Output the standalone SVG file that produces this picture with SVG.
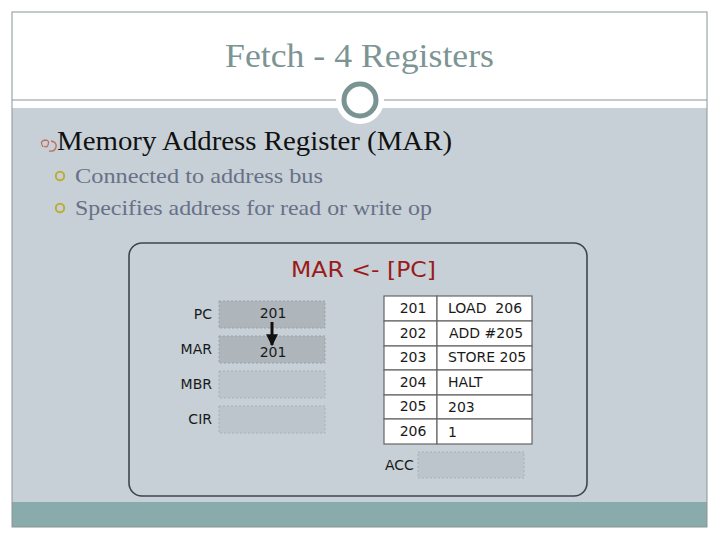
<svg xmlns="http://www.w3.org/2000/svg" width="720" height="540" viewBox="0 0 720 540">
<defs>
<style>
.title{font-family:"Liberation Serif","DejaVu Serif",serif;font-size:34px;fill:#7d9494}
.h1{font-family:"Liberation Serif","DejaVu Serif",serif;font-size:27px;fill:#111}
.h2{font-family:"Liberation Serif","DejaVu Serif",serif;font-size:22px;fill:#687088}
.lab{font-family:"DejaVu Sans","Liberation Sans",sans-serif;font-size:14px;fill:#1a1a1a}
.cell{fill:#ffffff;stroke:#666;stroke-width:1.2}
.regA{fill:#aeb6bb;stroke:#9aa2a8;stroke-width:1;stroke-dasharray:2 2}
.regB{fill:#bcc5cb;stroke:#a8b0b6;stroke-width:1;stroke-dasharray:2 2}
</style>
<marker id="ah" viewBox="0 0 10 10" refX="9" refY="5" markerWidth="4" markerHeight="4" orient="auto"><path d="M0,0 L10,5 L0,10 z" fill="#111"/></marker>
</defs>
<rect width="720" height="540" fill="#ffffff"/>
<rect x="12" y="108" width="695" height="419" fill="#c6d0d6"/>
<rect x="12" y="502" width="695" height="25" fill="#8aabab"/>
<rect x="12" y="12" width="695" height="515" fill="none" stroke="#8a9696" stroke-width="1"/>
<line x1="12" y1="100" x2="707" y2="100" stroke="#8a9696" stroke-width="1"/>
<circle cx="360" cy="100" r="24" fill="#ffffff"/>
<circle cx="360" cy="100" r="16" fill="#ffffff" stroke="#7a9494" stroke-width="5"/>
<text class="title" x="225" y="67" textLength="269" lengthAdjust="spacingAndGlyphs">Fetch - 4 Registers</text>
<path d="M43,147 q-4,-6 2,-7 q5,0 3,5 q-1,3 -4,1 M51,141 q6,1 5,6 q-1,5 -7,4" fill="none" stroke="#c07060" stroke-width="1.3"/>
<text class="h1" x="57" y="150" textLength="395" lengthAdjust="spacingAndGlyphs">Memory Address Register (MAR)</text>
<circle cx="60" cy="176" r="4.2" fill="none" stroke="#b8ae3a" stroke-width="2"/>
<text class="h2" x="75" y="183" textLength="248" lengthAdjust="spacingAndGlyphs">Connected to address bus</text>
<circle cx="60" cy="208" r="4.2" fill="none" stroke="#b8ae3a" stroke-width="2"/>
<text class="h2" x="75" y="215" textLength="357" lengthAdjust="spacingAndGlyphs">Specifies address for read or write op</text>
<g id="panel">
<rect x="129" y="243" width="458" height="253" rx="13" fill="#c6d0d6" stroke="#3c4650" stroke-width="1.6"/>
<text x="291" y="277" textLength="145" lengthAdjust="spacingAndGlyphs" style="font-family:'DejaVu Sans','Liberation Sans',sans-serif;font-size:22px;fill:#9b1b1b">MAR &lt;- [PC]</text>
</g>
<g id="pc"><rect class="regA" x="219" y="301" width="106" height="27"/><text class="lab" x="212" y="319" text-anchor="end">PC</text><text class="lab" x="273" y="318" text-anchor="middle">201</text></g>
<g id="mar"><rect class="regA" x="219" y="336" width="106" height="27"/><text class="lab" x="212" y="354" text-anchor="end">MAR</text><text class="lab" x="273" y="357" text-anchor="middle">201</text></g>
<g id="mbr"><rect class="regB" x="219" y="371" width="106" height="27"/><text class="lab" x="212" y="389" text-anchor="end">MBR</text></g>
<g id="cir"><rect class="regB" x="219" y="406" width="106" height="27"/><text class="lab" x="212" y="424" text-anchor="end">CIR</text></g>
<g id="acc"><rect class="regB" x="418" y="452" width="106" height="26"/><text class="lab" x="385" y="470">ACC</text></g>
<g id="memory">
<rect class="cell" x="384" y="296" width="53" height="25"/><rect class="cell" x="437" y="296" width="95" height="25"/>
<rect class="cell" x="384" y="321" width="53" height="25"/><rect class="cell" x="437" y="321" width="95" height="25"/>
<rect class="cell" x="384" y="346" width="53" height="24"/><rect class="cell" x="437" y="346" width="95" height="24"/>
<rect class="cell" x="384" y="370" width="53" height="25"/><rect class="cell" x="437" y="370" width="95" height="25"/>
<rect class="cell" x="384" y="395" width="53" height="24"/><rect class="cell" x="437" y="395" width="95" height="24"/>
<rect class="cell" x="384" y="419" width="53" height="25"/><rect class="cell" x="437" y="419" width="95" height="25"/>
<text class="lab" x="413" y="313" text-anchor="middle">201</text><text class="lab" x="448" y="313" xml:space="preserve">LOAD  206</text>
<text class="lab" x="413" y="338" text-anchor="middle">202</text><text class="lab" x="449" y="338">ADD #205</text>
<text class="lab" x="413" y="362" text-anchor="middle">203</text><text class="lab" x="448" y="362">STORE 205</text>
<text class="lab" x="413" y="387" text-anchor="middle">204</text><text class="lab" x="448" y="387">HALT</text>
<text class="lab" x="413" y="411" text-anchor="middle">205</text><text class="lab" x="448" y="412">203</text>
<text class="lab" x="413" y="436" text-anchor="middle">206</text><text class="lab" x="448" y="437">1</text>
</g>
<g id="connectors">
<line x1="272" y1="322" x2="272" y2="345" stroke="#111" stroke-width="3" marker-end="url(#ah)"/>
</g>
</svg>
